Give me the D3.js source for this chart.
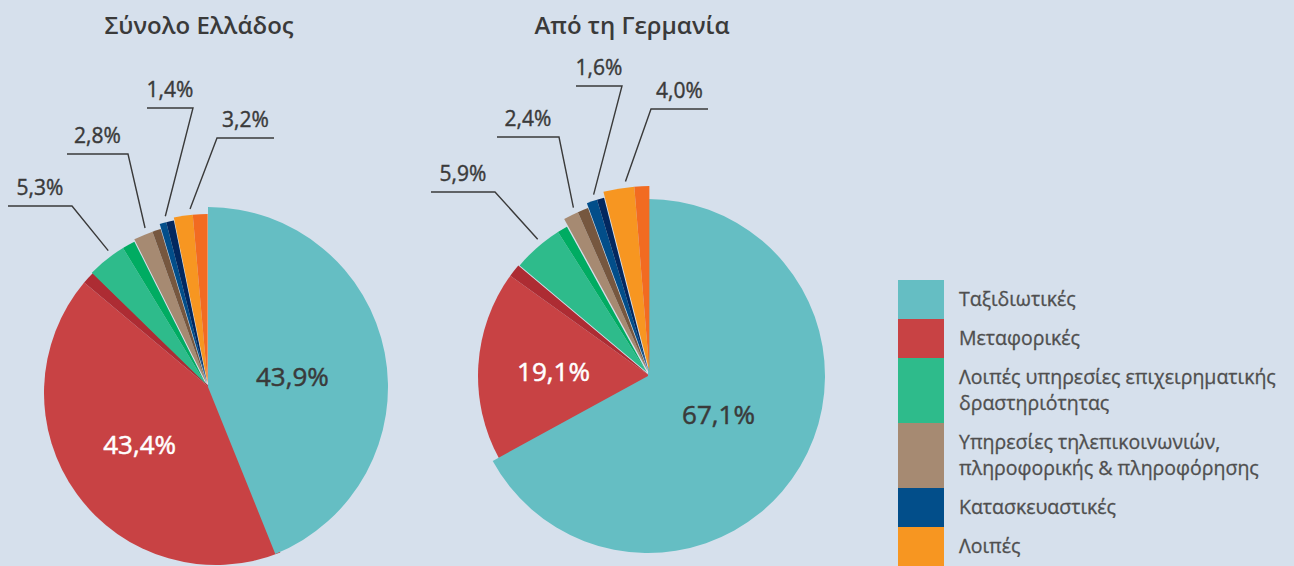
<!DOCTYPE html>
<html>
<head>
<meta charset="utf-8">
<script src="https://cdn.jsdelivr.net/npm/d3@7"></script>
<style>
body { margin: 0; background: #d6e0ec; }
svg { display: block; font-family: "Open Sans", sans-serif; }
</style>
</head>
<body>
<div id="chart"></div>
<script>
// categories and values (percent), darker sub-share sits at the clockwise end of each slice
var categories = ["Ταξιδιωτικές", "Μεταφορικές", "Λοιπές υπηρεσίες επιχειρηματικής δραστηριότητας",
  "Υπηρεσίες τηλεπικοινωνιών, πληροφορικής & πληροφόρησης", "Κατασκευαστικές", "Λοιπές"];
var legendLines = [["Ταξιδιωτικές"], ["Μεταφορικές"], ["Λοιπές υπηρεσίες επιχειρηματικής", "δραστηριότητας"],
  ["Υπηρεσίες τηλεπικοινωνιών,", "πληροφορικής & πληροφόρησης"], ["Κατασκευαστικές"], ["Λοιπές"]];
var titles = ["Σύνολο Ελλάδος", "Από τη Γερμανία"];

var greeceValues = [43.9, 43.4, 5.3, 2.8, 1.4, 3.2];
var greeceDark = [0, 1.2, 1.3, 0.85, 0.75, 1.4];
var germanyValues = [67.1, 19.1, 5.9, 2.4, 1.6, 4.0];
var germanyDark = [0, 1.2, 1.0, 1.0, 0.65, 1.3];

var colors = ["#65bec3", "#c84244", "#2ebb8b", "#a68a72", "#024e8a", "#f79621"];
var darkColors = ["#65bec3", "#ad2c33", "#00ac62", "#76573f", "#03285f", "#f26b21"];

var width = 1294, height = 566;
var gr = d3.formatLocale({decimal: ",", thousands: ".", grouping: [3], currency: ["", "€"]});
var fmt = function(v) { return gr.format(".1f")(v) + "%"; };

var svg = d3.select("#chart").append("svg")
  .attr("width", width)
  .attr("height", height);

svg.append("rect").attr("width", width).attr("height", height).attr("fill", "#d6e0ec");

// layout of each pie (sizes, offsets, label placement)
var pies = [
  {title: titles[0], values: greeceValues, dark: greeceDark, cx: 208, cy: 387, titleX: 199,
   radius: [180, 172, 159, 161, 166, 169], explode: [0, 0, 4, 4, 4, 4],
   shift: [[0, 0], [8, 6], [0, 0], [0, 0], [0, 0], [0, 0]],
   inner: [{r: 86, dy: 6, color: "#3a3a3a"}, {r: 92, dy: 0, color: "#fff"}],
   labels: [null, null, {dx: -136, dy: -181, side: -1, len: 64}, {dx: -80, dy: -233, side: -1, len: 61},
            {dx: -15, dy: -279, side: -1, len: 46}, {dx: 9, dy: -249, side: 1, len: 57}]},
  {title: titles[1], values: germanyValues, dark: germanyDark, cx: 650, cy: 376, titleX: 632,
   radius: [177, 172, 166, 174, 179, 185], explode: [0, 0, 5, 5, 5, 5],
   shift: [[-2, 0], [0, 0], [0, 0], [0, 0], [0, 0], [0, 0]],
   inner: [{r: 82, dy: -3, color: "#3a3a3a"}, {r: 97, dy: 5, color: "#fff"}],
   labels: [null, null, {dx: -155, dy: -184, side: -1, len: 64}, {dx: -91, dy: -239, side: -1, len: 62},
            {dx: -28, dy: -290, side: -1, len: 46}, {dx: 1, dy: -267, side: 1, len: 57}]}
];

var pie = d3.pie().sort(null).startAngle(0).endAngle(2 * Math.PI);

function dir(a) { return [Math.sin(a), -Math.cos(a)]; }

pies.forEach(function(p) {
  svg.append("text")
    .attr("x", p.titleX).attr("y", 34)
    .attr("text-anchor", "middle")
    .attr("font-size", 24).attr("font-weight", 600)
    .attr("fill", "#3a3a3a")
    .text(p.title);

  var arcs = pie(p.values);
  var total = d3.sum(p.values);
  var g = svg.append("g").attr("transform", "translate(" + p.cx + "," + p.cy + ")");

  // red drawn first so teal overlaps it, then the small slices
  var order = [1, 0, 2, 3, 4, 5];
  order.forEach(function(i) {
    var d = arcs[i];
    var mid = (d.startAngle + d.endAngle) / 2;
    var v = dir(mid);
    var ox = v[0] * p.explode[i] + p.shift[i][0];
    var oy = v[1] * p.explode[i] + p.shift[i][1];
    var darkA = p.dark[i] / total * 2 * Math.PI;
    var split = d.endAngle - darkA;
    var arc = d3.arc().innerRadius(0).outerRadius(p.radius[i]);
    var sg = g.append("g").attr("transform", "translate(" + ox + "," + oy + ")");
    sg.append("path")
      .attr("d", arc({startAngle: d.startAngle, endAngle: split}))
      .attr("fill", colors[i]);
    if (darkA > 0) {
      sg.append("path")
        .attr("d", arc({startAngle: split, endAngle: d.endAngle}))
        .attr("fill", darkColors[i]);
    }
  });

  // big labels inside
  p.inner.forEach(function(lab, i) {
    var d = arcs[i];
    var v = dir((d.startAngle + d.endAngle) / 2);
    g.append("text")
      .attr("x", v[0] * lab.r + p.shift[i][0])
      .attr("y", v[1] * lab.r + p.shift[i][1] + lab.dy)
      .attr("dy", "0.36em")
      .attr("text-anchor", "middle")
      .attr("font-size", 26)
      .attr("fill", lab.color)
      .attr("stroke", lab.color).attr("stroke-width", 0.5)
      .text(fmt(p.values[i]));
  });

  // leader labels for small slices
  p.labels.forEach(function(lab, i) {
    if (!lab) return;
    var d = arcs[i];
    var v = dir((d.startAngle + d.endAngle) / 2);
    var r0 = p.radius[i] + p.explode[i] + 6;
    var x0 = v[0] * r0, y0 = v[1] * r0;
    var x2 = lab.dx + lab.side * lab.len;
    g.append("polyline")
      .attr("points", [[x0, y0], [lab.dx, lab.dy], [x2, lab.dy]].join(" "))
      .attr("fill", "none")
      .attr("stroke", "#3a3a3a")
      .attr("stroke-width", 1.4);
    g.append("text")
      .attr("x", (lab.dx + x2) / 2)
      .attr("y", lab.dy - 11)
      .attr("text-anchor", "middle")
      .attr("font-size", 21)
      .attr("fill", "#3a3a3a")
      .attr("stroke", "#3a3a3a").attr("stroke-width", 0.4)
      .text(fmt(p.values[i]));
  });
});

// legend
var legend = svg.append("g").attr("transform", "translate(898,280)");
var y = 0;
categories.forEach(function(c, i) {
  var lines = legendLines[i];
  var h = 39 + 26 * (lines.length - 1);
  legend.append("rect")
    .attr("x", 0).attr("y", y)
    .attr("width", 46).attr("height", h)
    .attr("fill", colors[i]);
  var t = legend.append("text")
    .attr("x", 61)
    .attr("font-size", 19.5)
    .attr("fill", "#4f4f4f")
    .attr("stroke", "#4f4f4f").attr("stroke-width", 0.3);
  lines.forEach(function(l, k) {
    t.append("tspan")
      .attr("x", 61)
      .attr("y", y + h / 2 + (k - (lines.length - 1) / 2) * 26)
      .attr("dy", "0.35em")
      .text(l);
  });
  y += h;
});
</script>
</body>
</html>
